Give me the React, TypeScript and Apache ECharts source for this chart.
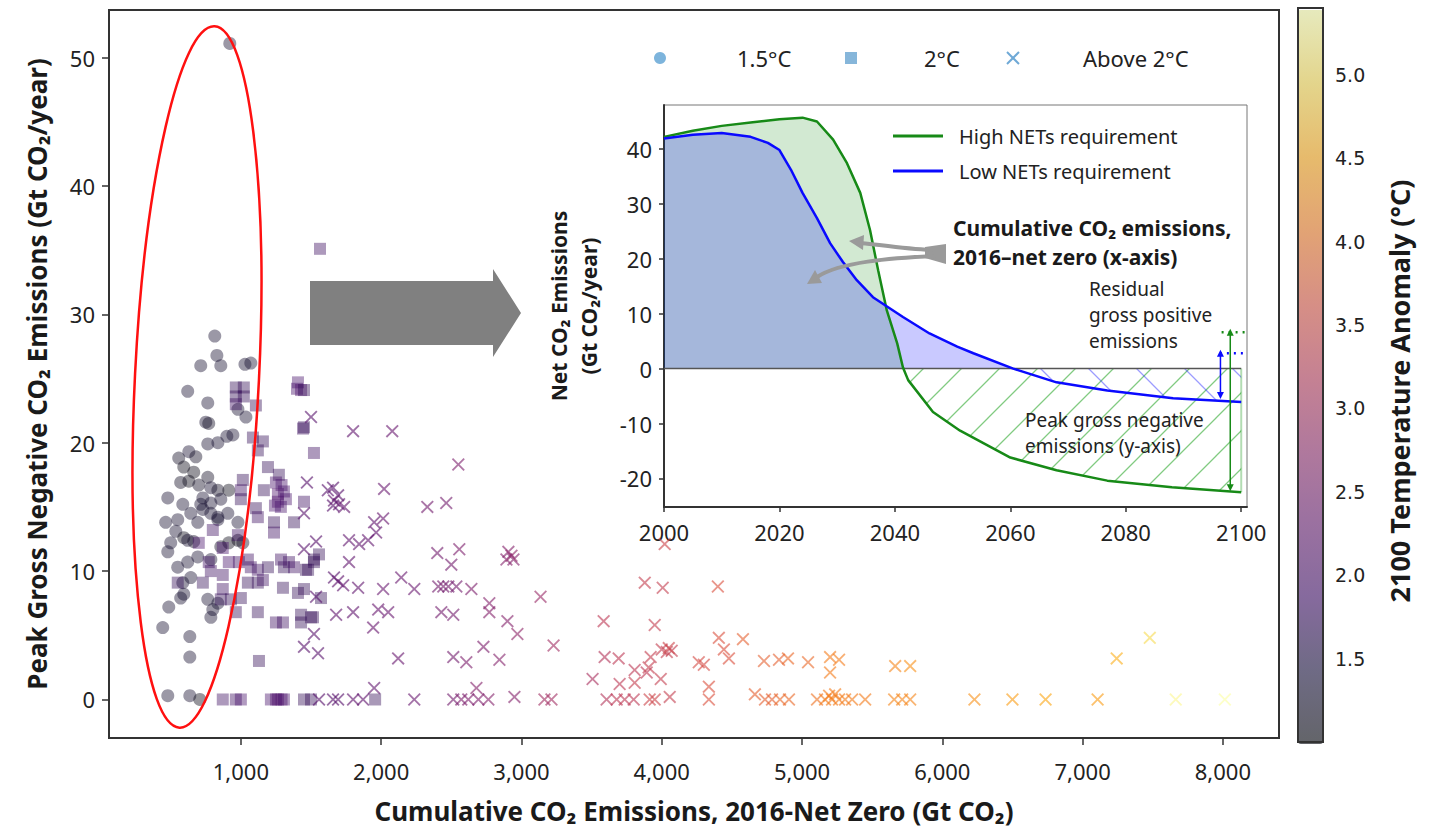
import React, { useEffect, useRef } from "react";
import * as echarts from "echarts";

// [cumulative CO2 (Gt), peak gross negative (Gt/yr), 2100 temperature (°C)]
const circles15: number[][] = [
  [921, 51.1, 1.3], [814, 28.3, 1.3], [829, 26.8, 1.3], [857, 26.0, 1.3], [714, 26.0, 1.3],
  [1029, 26.1, 1.3], [1071, 26.2, 1.3], [621, 24.0, 1.3], [764, 23.1, 1.3], [750, 21.6, 1.3],
  [771, 21.5, 1.2], [979, 22.6, 1.3], [1036, 22.0, 1.3], [943, 20.6, 1.3], [900, 20.5, 1.3],
  [836, 20.0, 1.3], [764, 19.9, 1.3], [557, 18.8, 1.2], [629, 19.3, 1.3], [679, 18.9, 1.2],
  [593, 18.1, 1.1], [664, 17.7, 1.1], [571, 16.9, 1.2], [629, 17.0, 1.1], [700, 16.7, 1.2],
  [764, 17.3, 1.2], [786, 16.5, 1.3], [479, 15.7, 1.3], [586, 15.2, 1.3], [729, 15.7, 1.3],
  [836, 16.3, 1.2], [914, 16.3, 1.1], [857, 15.6, 1.3], [643, 14.5, 1.3], [729, 14.8, 1.3],
  [907, 14.5, 1.3], [836, 14.2, 1.3], [464, 13.8, 1.3], [550, 14.0, 1.3], [714, 15.2, 1.3],
  [786, 14.5, 1.3], [979, 13.8, 1.3], [536, 13.1, 1.3], [500, 12.2, 1.3], [479, 11.5, 1.3],
  [593, 12.6, 1.1], [664, 12.3, 1.2], [693, 11.1, 1.3], [621, 10.7, 1.3], [550, 10.3, 1.3],
  [643, 9.5, 1.3], [593, 8.2, 1.3], [486, 7.2, 1.3], [764, 7.8, 1.3], [800, 7.0, 1.3],
  [786, 6.4, 1.3], [836, 7.5, 1.3], [914, 12.2, 1.1], [979, 12.4, 1.1], [1014, 12.2, 1.2],
  [786, 15.3, 1.3], [836, 14.0, 1.3], [693, 13.8, 1.3], [621, 12.4, 1.3], [786, 10.9, 1.3],
  [857, 11.9, 1.2], [586, 9.1, 1.3], [571, 7.9, 1.3], [443, 5.6, 1.3], [636, 4.9, 1.3],
  [636, 3.3, 1.3], [479, 0.3, 1.3], [636, 0.3, 1.3], [707, 0, 1.1],
];

const squares2: number[][] = [
  [1564, 35.1, 1.8], [964, 24.3, 1.7], [1021, 24.3, 1.7], [964, 23.6, 1.7], [1021, 23.6, 1.7],
  [964, 23.0, 1.8], [1107, 22.9, 1.7], [1407, 24.7, 1.9], [1429, 24.1, 2.0], [1400, 24.2, 1.9],
  [1443, 21.1, 1.8], [1521, 19.2, 1.8], [1086, 20.4, 1.7], [1157, 20.1, 1.7], [1121, 19.4, 1.7],
  [1193, 18.1, 1.7], [1271, 17.5, 1.7], [1250, 16.9, 1.9], [1290, 16.7, 1.9], [1264, 16.0, 2.0],
  [1307, 16.2, 1.9], [1264, 15.4, 2.0], [1321, 15.6, 1.9], [1285, 15.0, 1.9], [1243, 15.1, 1.9],
  [1450, 15.4, 1.8], [1014, 17.1, 1.7], [1000, 16.3, 1.8], [1164, 16.3, 1.7], [1107, 14.9, 1.7],
  [1000, 15.6, 1.7], [1121, 14.2, 1.8], [1236, 13.8, 1.7], [1236, 13.0, 1.8], [1379, 13.8, 1.7],
  [800, 13.2, 1.8], [700, 12.2, 1.9], [771, 10.7, 1.8], [786, 10.0, 1.8], [871, 9.7, 1.8],
  [729, 9.1, 1.7], [550, 9.1, 1.7], [871, 8.6, 1.8], [857, 7.8, 1.7], [929, 7.8, 1.7],
  [1000, 7.9, 1.7], [964, 6.8, 1.7], [1071, 10.3, 1.8], [1121, 10.1, 1.8], [1050, 9.1, 1.7],
  [1121, 9.1, 1.7], [1157, 9.3, 1.8], [1193, 10.3, 1.7], [1307, 10.3, 1.7], [1300, 8.7, 1.7],
  [1407, 8.3, 1.7], [1450, 8.6, 1.7], [1121, 6.8, 1.7], [1250, 6.0, 1.8], [1300, 6.0, 1.8],
  [1429, 6.0, 1.7], [1500, 6.4, 1.7], [1429, 6.6, 1.7], [1129, 3.0, 1.7], [1050, 10.9, 1.8],
  [979, 12.8, 1.8], [1286, 10.9, 1.8], [1343, 10.7, 1.8], [1379, 10.3, 1.8], [1479, 10.1, 1.7],
  [1521, 10.9, 1.7], [871, 11.8, 1.9], [914, 10.7, 1.9], [986, 10.7, 1.8], [1450, 24.1, 1.7],
  [1450, 21.2, 1.7], [1557, 11.3, 1.7], [1521, 10.7, 1.7], [1464, 10.1, 1.7], [1571, 7.9, 1.7],
  [1514, 6.4, 1.7], [871, 0, 1.8], [964, 0, 1.8], [1000, 0, 1.9], [1214, 0, 1.9],
  [1250, 0, 2.0], [1264, 0, 2.0], [1290, 0, 2.0], [1307, 0, 1.9], [1450, 0, 1.7],
  [1500, 0, 1.7], [1957, 0, 1.7],
];

const crossesAbove2: number[][] = [
  [1500, 22.0, 2.1], [1800, 20.9, 2.2], [2079, 20.9, 2.3], [2550, 18.3, 2.5], [1471, 16.9, 2.1],
  [1620, 16.3, 2.1], [1657, 16.5, 2.1], [1693, 15.9, 2.1], [1664, 15.5, 2.2], [1700, 15.2, 2.2],
  [1736, 15.0, 2.2], [1657, 15.1, 2.1], [2021, 16.4, 2.3], [2329, 15.0, 2.4], [2464, 15.3, 2.4],
  [1450, 14.5, 2.1], [1536, 12.3, 2.1], [1771, 12.4, 2.2], [1843, 12.1, 2.2], [1907, 12.4, 2.2],
  [1964, 13.0, 2.2], [1950, 13.8, 2.2], [2014, 14.1, 2.3], [2400, 11.4, 2.4], [2557, 11.7, 2.5],
  [2500, 10.5, 2.4], [2907, 11.5, 2.6], [2893, 10.9, 2.6], [2943, 10.9, 2.6], [2929, 11.2, 2.7],
  [1450, 11.7, 2.1], [1771, 10.7, 2.2], [1664, 9.5, 2.1], [1693, 9.2, 2.2], [1729, 8.9, 2.2],
  [1836, 8.7, 2.2], [2014, 8.6, 2.3], [2143, 9.5, 2.3], [2236, 8.6, 2.3], [2407, 8.8, 2.4],
  [2443, 8.8, 2.4], [2479, 8.8, 2.4], [2536, 8.8, 2.4], [2643, 8.6, 2.5], [2771, 7.5, 2.6],
  [2771, 6.8, 2.6], [2900, 6.1, 2.6], [2971, 5.1, 2.7], [1536, 8.0, 2.1], [1679, 6.6, 2.2],
  [1800, 6.8, 2.2], [1979, 7.0, 2.3], [2050, 6.8, 2.3], [1943, 5.6, 2.3], [2429, 6.8, 2.4],
  [2514, 6.6, 2.4], [1521, 5.1, 2.1], [1450, 4.1, 2.1], [1550, 3.6, 2.1], [2121, 3.2, 2.3],
  [2514, 3.3, 2.4], [2607, 2.9, 2.5], [2729, 4.1, 2.5], [2843, 3.1, 2.6], [1950, 0.9, 2.2],
  [2679, 0.9, 2.6], [2950, 0.2, 2.6], [1557, 0, 2.1], [1657, 0, 2.1], [1693, 0, 2.1],
  [1800, 0, 2.2], [1871, 0, 2.2], [2236, 0, 2.3], [2514, 0, 2.4], [2571, 0, 2.5],
  [2621, 0, 2.5], [2693, 0, 2.5], [2764, 0, 2.6], [3136, 8.0, 2.8], [4021, 12.1, 3.4],
  [3879, 9.1, 3.3], [4007, 8.7, 3.3], [4400, 8.8, 3.6], [3586, 6.1, 3.2], [3950, 5.8, 3.3],
  [3229, 4.2, 2.9], [4407, 4.8, 3.6], [4579, 4.7, 3.8], [3593, 3.3, 3.1], [3693, 3.2, 3.2],
  [3921, 3.3, 3.3], [4000, 3.9, 3.3], [4036, 3.7, 3.3], [4071, 3.8, 3.3], [4050, 4.0, 3.4],
  [4264, 2.9, 3.5], [4300, 2.7, 3.5], [4443, 3.9, 3.6], [4479, 3.2, 3.6], [4729, 3.0, 3.8],
  [4836, 3.1, 3.8], [4900, 3.2, 3.9], [5043, 2.9, 3.9], [5200, 3.3, 4.1], [5264, 3.1, 4.1],
  [5200, 2.1, 4.1], [5664, 2.6, 4.2], [5771, 2.6, 4.3], [3507, 1.6, 3.0], [3807, 2.3, 3.2],
  [3893, 2.1, 3.2], [3907, 2.5, 3.3], [3700, 1.2, 3.2], [3807, 1.3, 3.3], [3993, 1.6, 3.3],
  [4336, 1.0, 3.6], [4664, 0.4, 3.8], [3164, 0, 2.9], [3214, 0, 2.9], [3607, 0, 3.1],
  [3679, 0, 3.2], [3736, 0, 3.2], [3800, 0, 3.2], [3914, 0, 3.4], [3950, 0, 3.4],
  [4057, 0.2, 3.3], [4336, 0, 3.6], [4736, 0, 3.8], [4786, 0, 3.8], [4843, 0, 3.9],
  [4907, 0, 3.9], [5107, 0, 4.0], [5164, 0, 4.1], [5214, 0, 4.1], [5264, 0, 4.1],
  [5307, 0, 4.1], [5357, 0, 4.1], [5450, 0, 4.1], [5193, 0.3, 4.1], [5236, 0.4, 4.1],
  [5657, 0, 4.2], [5714, 0, 4.2], [5771, 0, 4.2], [6229, 0, 4.3], [6500, 0, 4.4],
  [6736, 0, 4.5], [7107, 0, 4.4], [7243, 3.2, 4.6], [7479, 4.8, 5.0], [7664, 0, 5.3],
  [8014, 0, 5.4],
];

const xTicks = [1000, 2000, 3000, 4000, 5000, 6000, 7000, 8000];
const yTicks = [0, 10, 20, 30, 40, 50];
const tempTicks = [1.5, 2.0, 2.5, 3.0, 3.5, 4.0, 4.5, 5.0];

// inset: [year, net CO2 emissions Gt/yr]
const highNETs: number[][] = [
  [2000, 42.2], [2005, 43.3], [2010, 44.2], [2015, 44.8], [2020, 45.4], [2024, 45.7],
  [2026.5, 45.0], [2029.3, 41.7], [2031.7, 37.4], [2034, 32.0], [2035.7, 25.2], [2037.1, 17.9],
  [2038.6, 10.6], [2040.4, 4.6], [2041.4, 0.2], [2042.3, -2.1], [2046.6, -7.9], [2051.3, -11.3],
  [2060, -16.2], [2068, -18.5], [2076.8, -20.4], [2088, -21.6], [2100, -22.5],
];
const lowNETs: number[][] = [
  [2000, 41.9], [2005, 42.6], [2010, 42.9], [2015, 42.2], [2018, 41.1], [2020, 39.8],
  [2022, 36.2], [2024, 32.0], [2026.5, 27.4], [2028.8, 22.8], [2031, 19.4], [2033.4, 16.1],
  [2036.2, 13.0], [2041.4, 9.4], [2046, 6.4], [2050.8, 4.0], [2053.6, 2.8], [2060.5, 0],
  [2068, -2.5], [2076.8, -4.0], [2088.2, -5.4], [2100, -6.1],
];
const insetXTicks = [2000, 2020, 2040, 2060, 2080, 2100];
const insetYTicks = [-20, -10, 0, 10, 20, 30, 40];
const residualHigh = 6.6;
const residualLow = 2.8;
const peakNegHigh = -21.7;
const peakNegLow = -4.9;

const INFERNO = ["#000004", "#160b39", "#420a68", "#6a176e", "#932667", "#bc3754", "#dd513a", "#f37819", "#fca50a", "#f6d746", "#fcffa4"];

function rgba(hex: string, a: number) {
  const n = parseInt(hex.slice(1), 16);
  return `rgba(${(n >> 16) & 255},${(n >> 8) & 255},${n & 255},${a})`;
}

function hatch(color: string, size: number, dir: "/" | "\\") {
  const c = document.createElement("canvas");
  c.width = size;
  c.height = size;
  const g = c.getContext("2d")!;
  g.strokeStyle = color;
  g.lineWidth = 1.3;
  g.beginPath();
  if (dir === "/") {
    g.moveTo(-2, size + 2); g.lineTo(size + 2, -2);
    g.moveTo(-2, 2); g.lineTo(2, -2);
    g.moveTo(size - 2, size + 2); g.lineTo(size + 2, size - 2);
  } else {
    g.moveTo(-2, -2); g.lineTo(size + 2, size + 2);
    g.moveTo(size - 2, -2); g.lineTo(size + 2, 2);
    g.moveTo(-2, size - 2); g.lineTo(2, size + 2);
  }
  g.stroke();
  return c;
}

const FONT = '"Noto Sans", sans-serif';
const X_SYMBOL = "path://M1,0L5,4L9,0L10,1L6,5L10,9L9,10L5,6L1,10L0,9L4,5L0,1Z";

export default function App() {
  const ref = useRef<HTMLDivElement>(null);
  useEffect(() => {
    document.body.style.margin = "0";
    const chart = echarts.init(ref.current!, undefined, { renderer: "svg" });
    const pos = (d: number[][]) => d.map(([x, y]) => [x, Math.max(y, 0)]);
    const neg = (d: number[][]) => d.map(([x, y]) => [x, Math.min(y, 0)]);
    const tickLabel = { fontFamily: FONT, fontSize: 22, color: "#222" };
    const green = "#178a17";
    const blue = "#0a0aff";

    const option: any = {
      animation: false,
      backgroundColor: "#fff",
      grid: [
        { left: 109, top: 10, width: 1170, height: 728, show: true, borderColor: "#333", borderWidth: 2, backgroundColor: "transparent" },
        { left: 664, top: 105, width: 583, height: 402, show: true, borderColor: "#777", borderWidth: 1, backgroundColor: "#fff" },
        { left: 1298, top: 8, width: 25, height: 734, show: false },
      ],
      xAxis: [
        {
          type: "value", gridIndex: 0, min: 60, max: 8400,
          name: "Cumulative CO₂ Emissions, 2016-Net Zero (Gt CO₂)", nameLocation: "middle", nameGap: 60,
          nameTextStyle: { fontFamily: FONT, fontWeight: "bold", fontSize: 26, color: "#1a1a1a" },
          axisLine: { onZero: false, lineStyle: { color: "#333", width: 2 } },
          axisTick: { customValues: xTicks, length: 7, lineStyle: { color: "#333", width: 1.5 } },
          axisLabel: { customValues: xTicks, margin: 22, ...tickLabel, formatter: (v: number) => v.toLocaleString("en-US") },
          splitLine: { show: false },
        },
        {
          type: "value", gridIndex: 1, min: 2000, max: 2101,
          axisLine: { onZero: false, lineStyle: { color: "#333", width: 2 } },
          axisTick: { customValues: insetXTicks, length: 5, lineStyle: { color: "#333", width: 1.5 } },
          axisLabel: { customValues: insetXTicks, margin: 14, ...tickLabel, formatter: (v: number) => String(v) },
          splitLine: { show: false },
        },
        { type: "value", gridIndex: 2, min: 0, max: 1, show: false },
      ],
      yAxis: [
        {
          type: "value", gridIndex: 0, min: -3, max: 53.7,
          name: "Peak Gross Negative CO₂ Emissions (Gt CO₂/year)", nameLocation: "middle", nameGap: 59,
          nameTextStyle: { fontFamily: FONT, fontWeight: "bold", fontSize: 26, color: "#1a1a1a" },
          axisLine: { onZero: false, lineStyle: { color: "#333", width: 2 } },
          axisTick: { customValues: yTicks, length: 7, lineStyle: { color: "#333", width: 1.5 } },
          axisLabel: { customValues: yTicks, margin: 14, ...tickLabel },
          splitLine: { show: false },
        },
        {
          type: "value", gridIndex: 1, min: -25.2, max: 48,
          name: "Net CO₂ Emissions\n(Gt CO₂/year)", nameLocation: "middle", nameGap: 60,
          nameTextStyle: { fontFamily: FONT, fontWeight: "bold", fontSize: 21, color: "#1a1a1a", lineHeight: 30 },
          axisLine: { onZero: false, lineStyle: { color: "#333", width: 2 } },
          axisTick: { customValues: insetYTicks, length: 5, lineStyle: { color: "#333", width: 1.5 } },
          axisLabel: { customValues: insetYTicks, margin: 12, ...tickLabel },
          splitLine: { show: false },
        },
        {
          type: "value", gridIndex: 2, min: 1.0, max: 5.4, position: "right",
          name: "2100 Temperature Anomaly (°C)", nameLocation: "middle", nameGap: 63, nameRotate: 90,
          nameTextStyle: { fontFamily: FONT, fontWeight: "bold", fontSize: 27, color: "#1a1a1a", padding: [0, 32, 0, 0] },
          axisLine: { show: false },
          axisTick: { show: false },
          axisLabel: { customValues: tempTicks, margin: 12, fontFamily: '"DejaVu Sans", sans-serif', fontSize: 19, color: "#222", formatter: (v: number) => v.toFixed(1) },
          splitLine: { show: false },
        },
      ],
      visualMap: [
        {
          type: "continuous", show: true, dimension: 2, seriesIndex: [0, 1], min: 1.0, max: 5.4,
          left: 1283, top: -5, itemWidth: 25, itemHeight: 734, calculable: false, hoverLink: false,
          inRange: { color: INFERNO.map((c) => rgba(c, 0.52)) },
        },
        {
          type: "continuous", show: false, dimension: 2, seriesIndex: [2], min: 1.0, max: 5.4,
          inRange: { color: INFERNO.map((c) => rgba(c, 0.75)) },
        },
      ],
      series: [
        { type: "scatter", name: "1.5°C", xAxisIndex: 0, yAxisIndex: 0, symbol: "circle", symbolSize: 13, data: circles15 },
        { type: "scatter", name: "2°C", xAxisIndex: 0, yAxisIndex: 0, symbol: "rect", symbolSize: 12, data: squares2 },
        { type: "scatter", name: "Above 2°C", xAxisIndex: 0, yAxisIndex: 0, symbol: X_SYMBOL, symbolSize: 13, data: crossesAbove2 },
        { type: "scatter", xAxisIndex: 2, yAxisIndex: 2, data: [] },
        {
          type: "line", xAxisIndex: 1, yAxisIndex: 1, data: pos(highNETs), symbol: "none",
          lineStyle: { width: 0, opacity: 0 }, areaStyle: { color: "rgba(0,128,0,0.25)", origin: 0 },
        },
        {
          type: "line", xAxisIndex: 1, yAxisIndex: 1, data: pos(lowNETs), symbol: "none",
          lineStyle: { width: 0, opacity: 0 }, areaStyle: { color: "rgba(0,0,255,0.3)", origin: 0 },
        },
        {
          type: "line", xAxisIndex: 1, yAxisIndex: 1, data: neg(highNETs), symbol: "none",
          lineStyle: { width: 0, opacity: 0 },
          areaStyle: { color: { image: hatch("rgba(0,150,0,0.7)", 38, "/"), repeat: "repeat" }, origin: 0 },
        },
        {
          type: "line", xAxisIndex: 1, yAxisIndex: 1, data: neg(lowNETs), symbol: "none",
          lineStyle: { width: 0, opacity: 0 },
          areaStyle: { color: { image: hatch("rgba(20,20,255,0.6)", 48, "\\"), repeat: "repeat" }, origin: 0 },
        },
        {
          type: "line", xAxisIndex: 1, yAxisIndex: 1, data: [[2000, 0], [2100, 0]], symbol: "none",
          lineStyle: { color: "#555", width: 1.5 },
        },
        {
          type: "line", xAxisIndex: 1, yAxisIndex: 1, data: [[2100, 0], [2100, -22.5]], symbol: "none",
          lineStyle: { color: "rgba(0,140,0,0.3)", width: 2 },
        },
        {
          type: "line", name: "High NETs requirement", xAxisIndex: 1, yAxisIndex: 1, data: highNETs, symbol: "none",
          lineStyle: { color: green, width: 2.5 },
        },
        {
          type: "line", name: "Low NETs requirement", xAxisIndex: 1, yAxisIndex: 1, data: lowNETs, symbol: "none",
          lineStyle: { color: blue, width: 2.5 },
        },
        {
          type: "line", xAxisIndex: 1, yAxisIndex: 1, data: [[2096.6, residualHigh], [2101, residualHigh]], symbol: "none",
          lineStyle: { color: green, width: 2.5, type: [2, 5] },
        },
        {
          type: "line", xAxisIndex: 1, yAxisIndex: 1, data: [[2096.3, residualLow], [2101, residualLow]], symbol: "none",
          lineStyle: { color: blue, width: 2.5, type: [2, 5] },
        },
        {
          type: "line", xAxisIndex: 1, yAxisIndex: 1, symbol: "triangle", symbolSize: 7, showSymbol: true,
          itemStyle: { color: green }, lineStyle: { color: green, width: 1.5 },
          data: [{ value: [2098.1, residualHigh], symbolRotate: 0 }, { value: [2098.1, peakNegHigh], symbolRotate: 180 }],
        },
        {
          type: "line", xAxisIndex: 1, yAxisIndex: 1, symbol: "triangle", symbolSize: 7, showSymbol: true,
          itemStyle: { color: blue }, lineStyle: { color: blue, width: 1.5 },
          data: [{ value: [2096.4, residualLow], symbolRotate: 0 }, { value: [2096.4, peakNegLow], symbolRotate: 180 }],
        },
      ],
      graphic: [
        // colorbar frame
        { type: "rect", z: 100, shape: { x: 1298, y: 8, width: 25, height: 734 }, style: { fill: "none", stroke: "#333", lineWidth: 2 } },
        // red ellipse
        { type: "ellipse", z: 100, x: 197, y: 377, rotation: -0.05, shape: { cx: 0, cy: 0, rx: 62, ry: 351 }, style: { fill: "none", stroke: "#ff1010", lineWidth: 2.5 } },
        // big gray arrow
        { type: "polygon", z: 100, shape: { points: [[310, 281], [493, 281], [493, 269], [521, 313], [493, 357], [493, 345], [310, 345]] }, style: { fill: "#808080" } },
        // main legend
        { type: "circle", z: 100, shape: { cx: 660, cy: 58, r: 6 }, style: { fill: "#7db4dc" } },
        { type: "text", z: 100, x: 737, y: 58, style: { text: "1.5°C", font: `22px ${FONT}`, fill: "#222", verticalAlign: "middle" } },
        { type: "rect", z: 100, shape: { x: 845, y: 52, width: 12, height: 12 }, style: { fill: "#86b6da" } },
        { type: "text", z: 100, x: 924, y: 58, style: { text: "2°C", font: `22px ${FONT}`, fill: "#222", verticalAlign: "middle" } },
        { type: "line", z: 100, shape: { x1: 1007, y1: 52, x2: 1019, y2: 64 }, style: { stroke: "#6fa9d6", lineWidth: 2 } },
        { type: "line", z: 100, shape: { x1: 1019, y1: 52, x2: 1007, y2: 64 }, style: { stroke: "#6fa9d6", lineWidth: 2 } },
        { type: "text", z: 100, x: 1083, y: 58, style: { text: "Above 2°C", font: `22px ${FONT}`, fill: "#222", verticalAlign: "middle" } },
        // inset legend
        { type: "line", z: 100, shape: { x1: 893, y1: 136, x2: 943, y2: 136 }, style: { stroke: green, lineWidth: 3 } },
        { type: "text", z: 100, x: 959, y: 136, style: { text: "High NETs requirement", font: `20px ${FONT}`, fill: "#222", verticalAlign: "middle" } },
        { type: "line", z: 100, shape: { x1: 893, y1: 171, x2: 943, y2: 171 }, style: { stroke: blue, lineWidth: 3 } },
        { type: "text", z: 100, x: 959, y: 171, style: { text: "Low NETs requirement", font: `20px ${FONT}`, fill: "#222", verticalAlign: "middle" } },
        // annotations
        { type: "text", z: 100, x: 953, y: 213, style: { text: "Cumulative CO₂ emissions,\n2016–net zero (x-axis)", font: `bold 21px ${FONT}`, lineHeight: 29, fill: "#1a1a1a", verticalAlign: "top" } },
        { type: "text", z: 100, x: 1089, y: 276, style: { text: "Residual\ngross positive\nemissions", font: `19px ${FONT}`, lineHeight: 26, fill: "#222", verticalAlign: "top" } },
        { type: "text", z: 100, x: 1025, y: 407, style: { text: "Peak gross negative\nemissions (y-axis)", font: `19px ${FONT}`, lineHeight: 26, fill: "#222", verticalAlign: "top" } },
        // gray curved arrows
        { type: "polygon", z: 100, shape: { points: [[925, 247], [946, 244], [946, 264], [925, 258]] }, style: { fill: "#9a9a9a" } },
        { type: "bezierCurve", z: 100, shape: { x1: 935, y1: 250, cpx1: 910, cpy1: 250, cpx2: 885, cpy2: 245, x2: 860, y2: 243 }, style: { stroke: "#9a9a9a", lineWidth: 4, fill: "none" } },
        { type: "polygon", z: 100, shape: { points: [[849, 241], [864, 235], [863, 250]] }, style: { fill: "#9a9a9a" } },
        { type: "bezierCurve", z: 100, shape: { x1: 935, y1: 256, cpx1: 890, cpy1: 258, cpx2: 840, cpy2: 262, x2: 817, y2: 277 }, style: { stroke: "#9a9a9a", lineWidth: 4, fill: "none" } },
        { type: "polygon", z: 100, shape: { points: [[807, 284], [822, 283], [815, 270]] }, style: { fill: "#9a9a9a" } },
      ],
    };
    chart.setOption(option);
    return () => chart.dispose();
  }, []);
  return <div ref={ref} style={{ position: "absolute", left: 0, top: 0, width: 1435, height: 834 }} />;
}
